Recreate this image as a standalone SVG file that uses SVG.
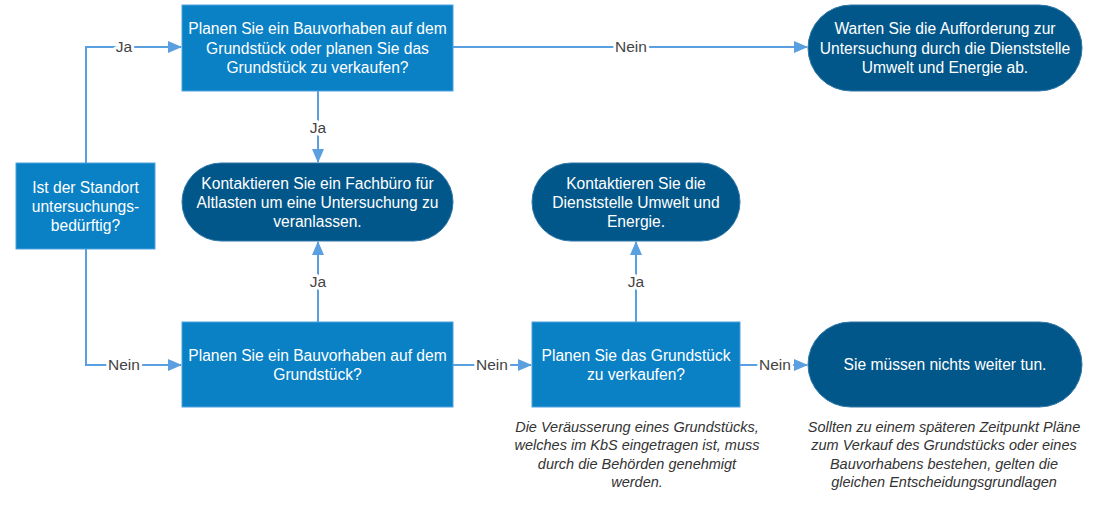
<svg xmlns="http://www.w3.org/2000/svg" width="1100" height="510" viewBox="0 0 1100 510">
<style>
.box{fill:#0A80C5;stroke:#4DA3DE;stroke-width:1}
.pill{fill:#02578A;stroke:#2E76A8;stroke-width:1}
.nt{font-family:"Liberation Sans",Arial,sans-serif;font-size:15.6px;fill:#fff;text-anchor:middle}
.ln{fill:none;stroke:#5A9FE0;stroke-width:2}
.lb{font-family:"Liberation Sans",Arial,sans-serif;font-size:15.5px;fill:#444;text-anchor:middle;paint-order:stroke;stroke:#fff;stroke-width:6px;stroke-linejoin:round}
.note{font-family:"Liberation Sans",Arial,sans-serif;font-size:14.5px;font-style:italic;fill:#333;text-anchor:middle}
</style>
<defs>
<marker id="ah" markerUnits="userSpaceOnUse" markerWidth="14" markerHeight="14" viewBox="0 0 14 14" refX="13" refY="7" orient="auto">
<path d="M0,1 L14,7 L0,13 Z" fill="#5A9FE0"/>
</marker>
</defs>
<rect width="1100" height="510" fill="#fff"/>
<g id="connectors">
<path class="ln" d="M86,163 V47 H181" marker-end="url(#ah)"/>
<path class="ln" d="M86,249 V365 H181" marker-end="url(#ah)"/>
<path class="ln" d="M453,47 H807" marker-end="url(#ah)"/>
<path class="ln" d="M318,91 V162" marker-end="url(#ah)"/>
<path class="ln" d="M318,322 V242" marker-end="url(#ah)"/>
<path class="ln" d="M453,365 H531" marker-end="url(#ah)"/>
<path class="ln" d="M636,322 V242" marker-end="url(#ah)"/>
<path class="ln" d="M740,365 H807" marker-end="url(#ah)"/>
<text class="lb" x="124" y="52">Ja</text>
<text class="lb" x="124" y="370">Nein</text>
<text class="lb" x="631" y="52">Nein</text>
<text class="lb" x="318" y="133">Ja</text>
<text class="lb" x="318" y="287">Ja</text>
<text class="lb" x="492" y="370">Nein</text>
<text class="lb" x="636" y="287">Ja</text>
<text class="lb" x="775" y="370">Nein</text>
</g>
<g id="n-standort">
<rect class="box" x="16" y="163" width="139" height="86"/>
<text class="nt" x="85.5" y="193">Ist der Standort</text>
<text class="nt" x="85.5" y="212">untersuchungs-</text>
<text class="nt" x="85.5" y="231">bedürftig?</text>
</g>
<g id="n-bau-verkauf">
<rect class="box" x="182" y="5" width="271" height="86"/>
<text class="nt" x="317.5" y="34">Planen Sie ein Bauvorhaben auf dem</text>
<text class="nt" x="317.5" y="54">Grundstück oder planen Sie das</text>
<text class="nt" x="317.5" y="73">Grundstück zu verkaufen?</text>
</g>
<g id="n-warten">
<rect class="pill" x="808" y="5" width="274" height="86" rx="43"/>
<text class="nt" x="945" y="34">Warten Sie die Aufforderung zur</text>
<text class="nt" x="945" y="54">Untersuchung durch die Dienststelle</text>
<text class="nt" x="945" y="73">Umwelt und Energie ab.</text>
</g>
<g id="n-fachbuero">
<rect class="pill" x="182" y="163" width="271" height="78" rx="39"/>
<text class="nt" x="317.5" y="189">Kontaktieren Sie ein Fachbüro für</text>
<text class="nt" x="317.5" y="208">Altlasten um eine Untersuchung zu</text>
<text class="nt" x="317.5" y="227">veranlassen.</text>
</g>
<g id="n-dienststelle">
<rect class="pill" x="532" y="163" width="208" height="78" rx="39"/>
<text class="nt" x="636" y="189">Kontaktieren Sie die</text>
<text class="nt" x="636" y="208">Dienststelle Umwelt und</text>
<text class="nt" x="636" y="227">Energie.</text>
</g>
<g id="n-bau">
<rect class="box" x="182" y="322" width="271" height="85"/>
<text class="nt" x="317.5" y="361">Planen Sie ein Bauvorhaben auf dem</text>
<text class="nt" x="317.5" y="380">Grundstück?</text>
</g>
<g id="n-verkauf">
<rect class="box" x="532" y="322" width="208" height="85"/>
<text class="nt" x="636" y="361">Planen Sie das Grundstück</text>
<text class="nt" x="636" y="380">zu verkaufen?</text>
</g>
<g id="n-nichts">
<rect class="pill" x="808" y="322" width="274" height="85" rx="42.5"/>
<text class="nt" x="945" y="370">Sie müssen nichts weiter tun.</text>
</g>
<g id="note-verkauf">
<text class="note" x="637" y="432">Die Veräusserung eines Grundstücks,</text>
<text class="note" x="637" y="450">welches im KbS eingetragen ist, muss</text>
<text class="note" x="637" y="469">durch die Behörden genehmigt</text>
<text class="note" x="637" y="487">werden.</text>
</g>
<g id="note-spaeter">
<text class="note" x="944" y="432">Sollten zu einem späteren Zeitpunkt Pläne</text>
<text class="note" x="944" y="450">zum Verkauf des Grundstücks oder eines</text>
<text class="note" x="944" y="469">Bauvorhabens bestehen, gelten die</text>
<text class="note" x="944" y="487">gleichen Entscheidungsgrundlagen</text>
</g>
</svg>
